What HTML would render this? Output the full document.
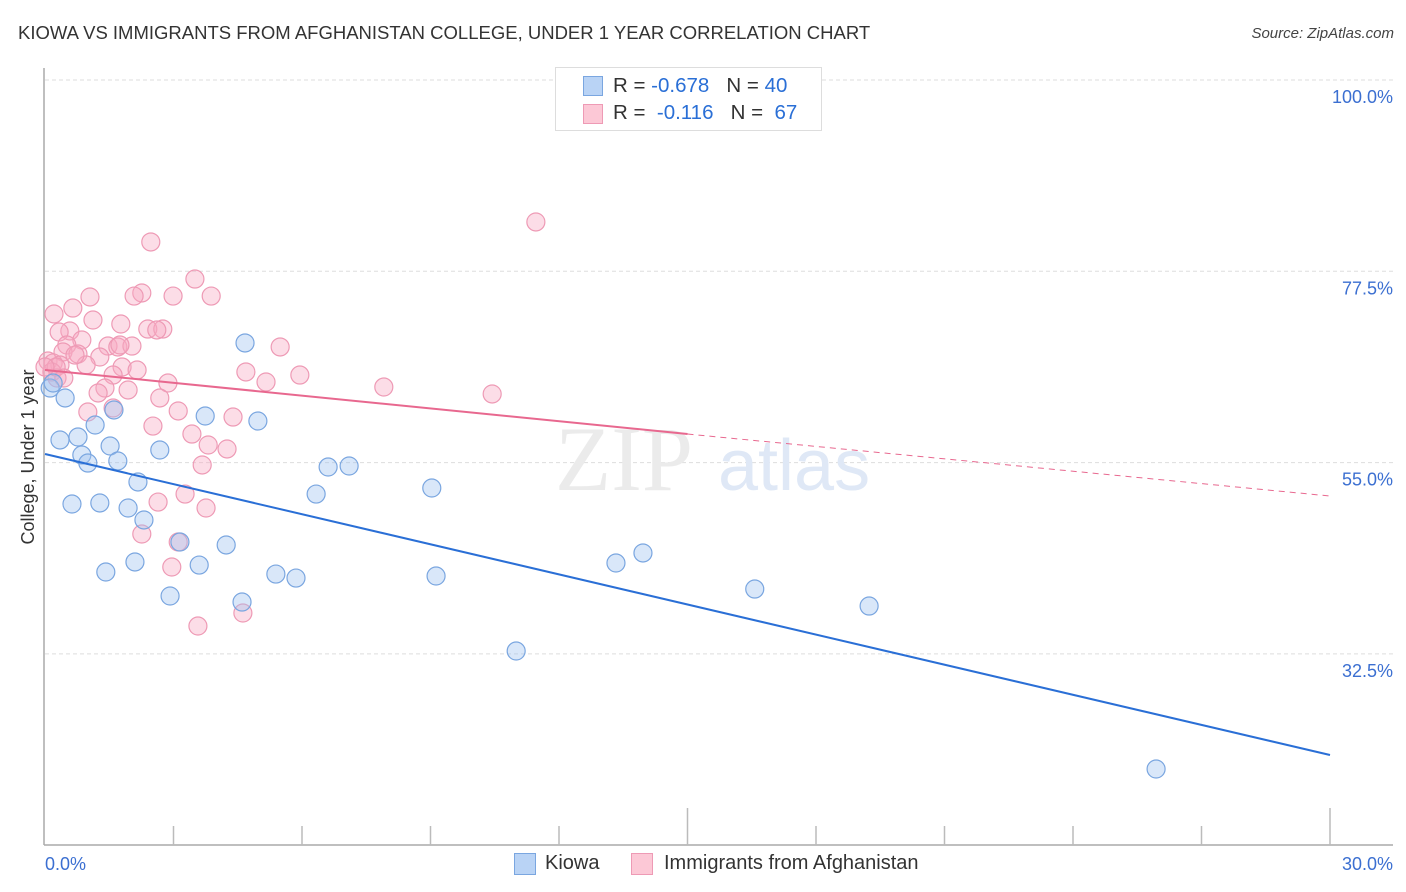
<!DOCTYPE html>
<html><head><meta charset="utf-8"><style>
body{margin:0;background:#fff;font-family:"Liberation Sans",sans-serif;}
#wrap{position:relative;width:1406px;height:892px;overflow:hidden;}
.t{position:absolute;white-space:nowrap;}
</style></head><body>
<div id="wrap">
<div class="t" style="left:18px;top:22px;font-size:18.5px;color:#333;">KIOWA VS IMMIGRANTS FROM AFGHANISTAN COLLEGE, UNDER 1 YEAR CORRELATION CHART</div>
<div class="t" style="right:12px;top:25px;font-size:15px;color:#444;font-style:italic;">Source: ZipAtlas.com</div>
<svg id="plot" width="1406" height="892" style="position:absolute;left:0;top:0"></svg>
</div>
<script>
const yTicks=[100,77.5,55,32.5];
const yTickLabels=["100.0%","77.5%","55.0%","32.5%"];
const xTickLabels=["0.0%","30.0%"];
const kiowaX=[0.12,0.19,0.47,0.35,0.77,0.86,1.00,1.17,1.52,1.70,1.61,0.63,1.28,1.94,2.17,2.31,1.42,2.10,2.68,3.15,2.92,3.60,3.74,4.23,4.60,4.67,4.97,5.39,5.86,6.33,6.61,7.10,9.03,9.13,11.00,13.33,13.96,16.57,19.24,25.94];
const kiowaY=[63.77,64.36,62.60,57.66,58.01,55.89,54.95,59.42,56.95,55.19,61.19,50.13,50.25,49.66,52.72,48.25,42.13,43.31,56.48,45.66,39.31,42.95,60.48,45.31,38.60,69.07,59.89,41.89,41.42,51.30,54.48,54.60,52.01,41.66,32.84,43.19,44.37,40.13,38.13,18.96];
const afgX=[11.46,2.47,3.50,2.26,2.08,1.05,2.99,3.88,0.65,0.21,1.12,1.77,0.58,2.40,2.75,2.61,0.33,0.86,0.51,1.47,1.70,5.49,0.42,0.77,1.28,0.07,0.19,0.35,0.96,1.80,2.15,4.69,5.95,0.16,1.59,0.28,2.87,5.16,7.91,10.44,1.40,1.94,1.24,2.68,1.59,3.11,1.00,4.39,2.52,3.43,3.81,4.25,3.67,2.64,3.27,3.76,2.26,2.96,3.11,3.57,4.62,0.26,0.44,0.00,0.70,2.03,1.75];
const afgY=[83.30,80.95,76.59,74.95,74.59,74.48,74.59,74.59,73.18,72.48,71.77,71.30,70.48,70.71,70.71,70.60,70.36,69.42,68.83,68.71,68.60,68.60,68.01,67.77,67.42,66.95,66.72,66.48,66.48,66.24,65.89,65.66,65.30,65.66,65.30,64.95,64.36,64.48,63.89,63.07,63.77,63.54,63.19,62.60,61.42,61.07,60.95,60.36,59.30,58.36,57.07,56.60,54.72,50.36,51.30,49.66,46.60,42.72,45.66,35.78,37.31,66.24,64.95,66.24,67.65,68.71,68.83];
const kiowaTrend=[56.01,20.61];
const afgTrend=[65.89,58.36,51.07];

const NS="http://www.w3.org/2000/svg";
const svg=document.getElementById('plot');
const X0=45,X1=1330;
const sx=v=>X0+v/30*(X1-X0);
const sy=v=>80+(100-v)/22.5*191.3;
function mk(tag,at){const e=document.createElementNS(NS,tag);for(const k in at)e.setAttribute(k,at[k]);svg.appendChild(e);return e;}
yTicks.forEach((t,i)=>{
 const g=mk('line',{x1:X0,x2:1393,y1:sy(t),y2:sy(t),stroke:'#ddd','stroke-dasharray':'4,3','stroke-width':1});
 
 
 const tx=mk('text',{x:1393,y:sy(t)+23,'text-anchor':'end','font-size':18,fill:'#3b6fd1','font-family':'Liberation Sans, sans-serif'});
 tx.textContent=yTickLabels[i];
 
 
});
const wm=mk('text',{x:555,y:490,'font-size':92,fill:'#ebebeb','font-family':'Liberation Serif, serif'});wm.textContent='ZIP';


const wm2=mk('text',{x:718,y:490,'font-size':72,fill:'#dfe8f6','font-family':'Liberation Sans, sans-serif'});wm2.textContent='atlas';


const ay=mk('line',{x1:44,x2:44,y1:68,y2:845,stroke:'#aaa','stroke-width':1.5});


const ax=mk('line',{x1:44,x2:1393,y1:845,y2:845,stroke:'#aaa','stroke-width':1.5});


for(let i=1;i<=10;i++){
 const xx=sx(i*3);
 const tk=mk('line',{x1:xx,x2:xx,y1:(i==5||i==10)?808:826,y2:845,stroke:'#bbb','stroke-width':1.5});
 
 
}
const xl0=mk('text',{x:45,y:870,'font-size':18,fill:'#3b6fd1','font-family':'Liberation Sans, sans-serif'});xl0.textContent=xTickLabels[0];


const xl1=mk('text',{x:1393,y:870,'text-anchor':'end','font-size':18,fill:'#3b6fd1','font-family':'Liberation Sans, sans-serif'});xl1.textContent=xTickLabels[1];


const yt=mk('text',{x:0,y:0,transform:'translate(34,457) rotate(-90)','text-anchor':'middle','font-size':18,fill:'#333','font-family':'Liberation Sans, sans-serif'});yt.textContent='College, Under 1 year';


afgX.forEach((v,i)=>{
 const c=mk('circle',{cx:sx(v),cy:sy(afgY[i]),r:9,fill:'rgba(248,170,195,0.4)',stroke:'#ee9ab5','stroke-width':1.2});
 
 
});
kiowaX.forEach((v,i)=>{
 const c=mk('circle',{cx:sx(v),cy:sy(kiowaY[i]),r:9,fill:'rgba(160,195,240,0.4)',stroke:'#7aa6e0','stroke-width':1.2});
 
 
});
const kt=mk('line',{x1:sx(0),y1:sy(kiowaTrend[0]),x2:sx(30),y2:sy(kiowaTrend[1]),stroke:'#2a6fd6','stroke-width':2});


const pt=mk('line',{x1:sx(0),y1:sy(afgTrend[0]),x2:sx(15),y2:sy(afgTrend[1]),stroke:'#e8688f','stroke-width':2});


const pd=mk('line',{x1:sx(15),y1:sy(afgTrend[1]),x2:sx(30),y2:sy(afgTrend[2]),stroke:'#e8688f','stroke-width':1,'stroke-dasharray':'6,5'});


</script>
<div class="t" style="left:555px;top:67px;width:265px;height:62px;border:1px solid #ddd;background:#fff;font-size:20.5px;color:#333;">
 <div style="position:absolute;left:27px;top:8px;width:18px;height:18px;background:#b9d3f5;border:1px solid #7aa6e0;"></div>
 <div style="position:absolute;left:57px;top:6px;">R = <span style="color:#2a6fd6">-0.678</span>&nbsp;&nbsp;&nbsp;N = <span style="color:#2a6fd6">40</span></div>
 <div style="position:absolute;left:27px;top:36px;width:18px;height:18px;background:#fcc8d6;border:1px solid #ee9ab5;"></div>
 <div style="position:absolute;left:57px;top:33px;">R = &nbsp;<span style="color:#2a6fd6">-0.116</span>&nbsp;&nbsp;&nbsp;N = &nbsp;<span style="color:#2a6fd6">67</span></div>
</div>
<div style="position:absolute;left:514px;top:853px;width:20px;height:20px;background:#b9d3f5;border:1px solid #7aa6e0;"></div>
<div class="t" style="left:545px;top:852px;font-size:20px;color:#333;">Kiowa</div>
<div style="position:absolute;left:631px;top:853px;width:20px;height:20px;background:#fcc8d6;border:1px solid #ee9ab5;"></div>
<div class="t" style="left:664px;top:852px;font-size:20px;color:#333;">Immigrants from Afghanistan</div>
</body></html>
